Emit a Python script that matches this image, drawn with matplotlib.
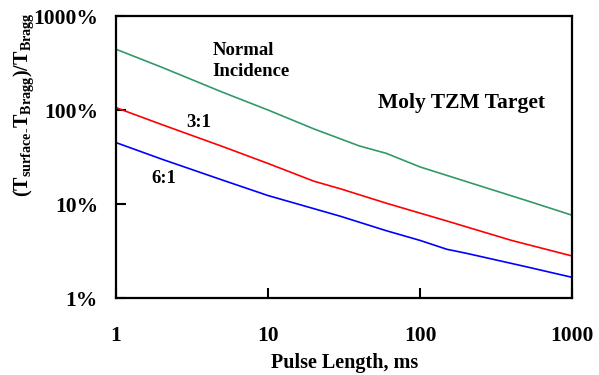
import matplotlib
matplotlib.use("Agg")
import matplotlib.pyplot as plt
from matplotlib.ticker import FuncFormatter, NullLocator, FixedLocator

plt.rcParams['font.family'] = 'Liberation Serif'
plt.rcParams['font.weight'] = 'bold'
plt.rcParams['mathtext.fontset'] = 'custom'
plt.rcParams['mathtext.rm'] = 'Liberation Serif:bold'
plt.rcParams['mathtext.bf'] = 'Liberation Serif:bold'

# pulse length (ms) and temperature rise (% of T_Bragg)
normal_x = [1, 2, 5, 10, 20, 40, 60, 100, 200, 500, 1000]
normal_y = [443, 285, 155, 100, 63, 41.4, 34.6, 24.8, 17.4, 10.9, 7.6]
r31_x = [1, 2, 5, 10, 20, 30, 60, 150, 400, 1000]
r31_y = [106, 70, 41, 27, 17.5, 14.5, 10.2, 6.6, 4.1, 2.8]
r61_x = [1, 2, 5, 10, 15, 30, 60, 100, 150, 200, 500, 1000]
r61_y = [45, 30, 18, 12.3, 10.2, 7.4, 5.2, 4.1, 3.3, 3.0, 2.15, 1.66]

fs = 13.5
fs_tick = 15.5
fig = plt.figure(figsize=(5.99, 3.75), dpi=100)
ax = fig.add_axes([0.1937, 0.2053, 0.7613, 0.752])

lw = 1.2
ax.plot(normal_x, normal_y, color='#339966', linewidth=lw)
ax.plot(r31_x, r31_y, color='#ff0000', linewidth=lw)
ax.plot(r61_x, r61_y, color='#0000ff', linewidth=lw)

ax.set_xscale('log')
ax.set_yscale('log')
ax.set_xlim(1, 1000)
ax.set_ylim(1, 1000)
ax.xaxis.set_major_locator(FixedLocator([1, 10, 100, 1000]))
ax.yaxis.set_major_locator(FixedLocator([1, 10, 100, 1000]))
ax.xaxis.set_minor_locator(NullLocator())
ax.yaxis.set_minor_locator(NullLocator())
ax.xaxis.set_major_formatter(FuncFormatter(lambda v, p: "%g" % v))
ax.yaxis.set_major_formatter(FuncFormatter(lambda v, p: "%g%%" % v))
ax.tick_params(axis='x', direction='in', length=7, width=1.5, pad=20, labelsize=fs_tick)
ax.tick_params(axis='y', direction='in', length=7, width=1.5, pad=13, labelsize=fs_tick)
for s in ax.spines.values():
    s.set_linewidth(1.6)

ax.text(4.3, 332, "Normal\nIncidence", fontsize=fs, fontweight='bold',
        ha='left', va='center', linespacing=1.3)
ax.text(53, 118, "Moly TZM Target", fontsize=15.5, fontweight='bold',
        ha='left', va='center')
ax.text(2.89, 74.5, "3:1", fontsize=fs, fontweight='bold', ha='left', va='center')
ax.text(1.70, 18.9, "6:1", fontsize=fs, fontweight='bold', ha='left', va='center')

fig.text(345 / 599, 1 - 363 / 375, "Pulse Length, ms", fontsize=14.5,
         fontweight='bold', ha='center', va='center')
fig.text(24 / 599, 1 - 105 / 375,
         r"$\mathbf{(T_{surface\text{-}}T_{Bragg})/T_{Bragg}}$",
         fontsize=14.5, rotation=90, ha='center', va='center')

fig.savefig("out.png", dpi=100)
